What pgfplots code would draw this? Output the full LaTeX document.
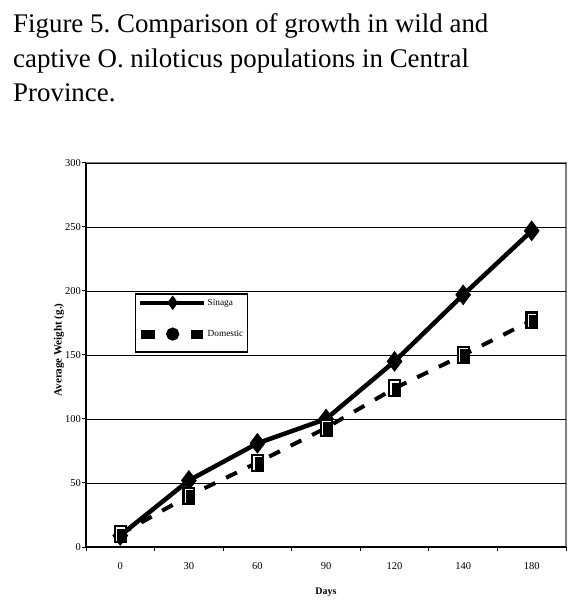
\documentclass[border=0pt]{standalone}
\usepackage{pgfplots}
\pgfplotsset{compat=1.18}
\usepackage{fontspec}
\setmainfont{Liberation Serif}
\frenchspacing
\pgfdeclareplotmark{fishbox}{%
  \pgfsetdash{}{0pt}%
  \pgfpathrectangle{\pgfqpoint{-6.5bp}{-9bp}}{\pgfqpoint{13bp}{18bp}}%
  \pgfusepathqfill
  \pgfsetstrokecolor{white}\pgfsetlinewidth{1.3bp}%
  \pgfpathmoveto{\pgfqpoint{-3.5bp}{-7bp}}%
  \pgfpathlineto{\pgfqpoint{-3.5bp}{6.2bp}}%
  \pgfpathlineto{\pgfqpoint{4.5bp}{6.2bp}}%
  \pgfusepathqstroke
}
\begin{document}
\begin{tikzpicture}
\useasboundingbox (0,0) rectangle (587bp,600bp);
\node[anchor=base west, inner sep=0pt, font=\fontsize{26.9bp}{30bp}\selectfont] at (13bp,567bp) {Figure 5. Comparison of growth in wild and};
\node[anchor=base west, inner sep=0pt, font=\fontsize{26.9bp}{30bp}\selectfont] at (13bp,532bp) {captive O. niloticus populations in Central};
\node[anchor=base west, inner sep=0pt, font=\fontsize{26.9bp}{30bp}\selectfont] at (13bp,498bp) {Province.};
\begin{axis}[
  at={(86bp,53bp)}, anchor=south west,
  scale only axis, width=480bp, height=384bp,
  xmin=-0.5, xmax=6.5, ymin=0, ymax=300,
  xtick={-0.5,0.5,...,6.5},
  x tick label as interval,
  xticklabels={0,30,60,90,120,140,180},
  ytick={0,50,...,300},
  /pgf/number format/assume math mode=true,
  ticklabel style={font=\fontsize{10.5bp}{12bp}\selectfont},
  xticklabel style={yshift=-8bp},
  yticklabel style={inner xsep=1bp},
  tick align=outside, major tick length=4bp,
  every tick/.style={black, line width=1bp},
  ymajorgrids, grid style={black, line width=0.9bp},
  axis background/.style={draw=gray, line width=1.6bp},
  axis x line*=bottom, axis y line*=left,
  axis line style={-, black, line width=2bp},
  xlabel={Days}, ylabel={Average Weight (g.)},
  xlabel style={font=\fontsize{10bp}{12bp}\selectfont\bfseries, at={(axis description cs:0.5,-0.117)}, anchor=center},
  ylabel style={font=\fontsize{11bp}{13bp}\selectfont\bfseries, at={(axis description cs:-0.056,0.513)}, anchor=center},
  legend style={at={(axis description cs:0.102,0.661)}, anchor=north west,
    draw=black, line width=1.5bp, fill=white, inner xsep=2bp, inner ysep=3bp,
    font=\fontsize{9.3bp}{11bp}\selectfont, row sep=19bp, legend cell align=left},
  legend image post style={solid},
]
\addplot[black, line width=4.5bp, mark=diamond*, mark size=10bp, mark options={solid, line width=0.5bp},
  legend image code/.code={
    \draw[black, line width=4bp] (0bp,0bp) -- (64bp,0bp);
    \fill[black] (33bp,-3.5bp) -- (35.5bp,0bp) -- (33bp,3.5bp) -- (30.5bp,0bp) -- cycle;}]
  coordinates {(0,9) (1,52) (2,81) (3,100) (4,145) (5,197) (6,247)};
\addlegendentry{Sinaga}
\addplot[black, line width=4bp, dash pattern=on 12bp off 12bp, mark=fishbox,
  legend image code/.code={
    \fill[black, solid] (3bp,-2.5bp) rectangle (13bp,2.5bp);
    \fill[black, solid] (33bp,0bp) circle (4.5bp);
    \fill[black, solid] (53bp,-2.5bp) rectangle (61bp,2.5bp);
    \path (64bp,-13bp);}]
  coordinates {(0,10) (1,40) (2,66) (3,93) (4,124) (5,150) (6,177)};
\addlegendentry{Domestic}
\end{axis}
\end{tikzpicture}
\end{document}
